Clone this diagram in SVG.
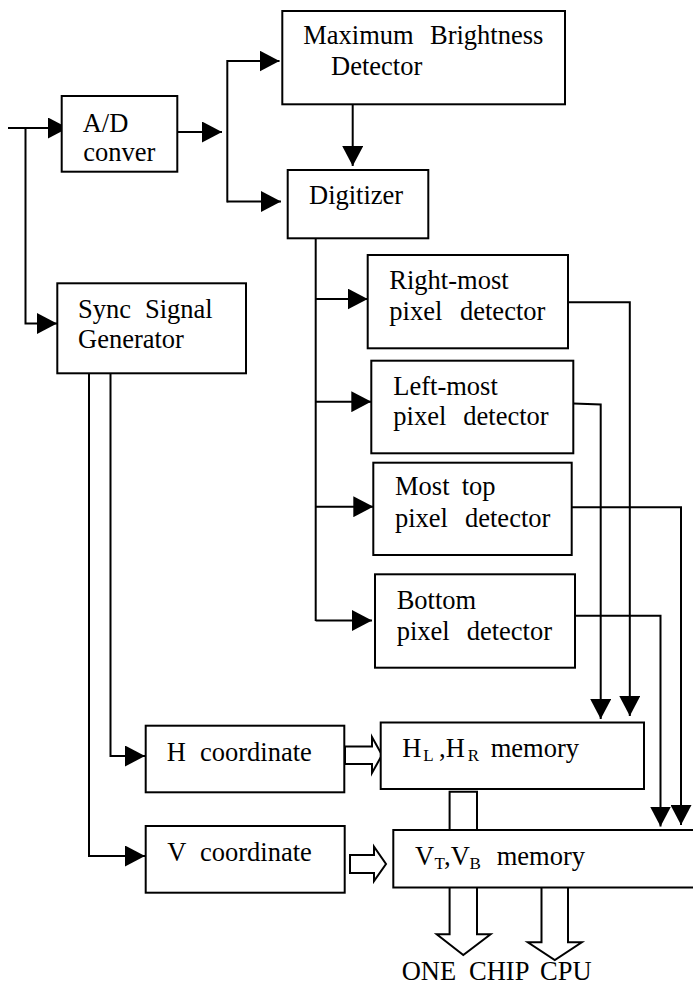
<svg xmlns="http://www.w3.org/2000/svg" width="693" height="987" viewBox="0 0 693 987">
<style>
.box{fill:#fff;stroke:#000;stroke-width:2}
.ln{fill:none;stroke:#000;stroke-width:2}
.ha{fill:#fff;stroke:#000;stroke-width:2;stroke-linejoin:miter}
.t{font-family:'Liberation Serif','DejaVu Serif',serif;font-size:26.5px;fill:#000}
.sub{font-size:17px}
</style>
<defs>
<marker id="arr" markerUnits="userSpaceOnUse" markerWidth="20" markerHeight="21" refX="20" refY="10.5" orient="auto" viewBox="0 0 20 21">
<path d="M0,0 L20,10.5 L0,21 z" fill="#000"/>
</marker>
</defs>
<rect width="693" height="987" fill="#fff"/>
<g id="connectors">
<polyline class="ln" points="8,128 68,128" marker-end="url(#arr)"/>
<polyline class="ln" points="25.5,128 25.5,323.5 57,323.5" marker-end="url(#arr)"/>
<polyline class="ln" points="177,132 222,132" marker-end="url(#arr)"/>
<polyline class="ln" points="227.3,60 227.3,202.5"/>
<polyline class="ln" points="227.3,61 279.5,61" marker-end="url(#arr)"/>
<polyline class="ln" points="227.3,201.5 281,201.5" marker-end="url(#arr)"/>
<polyline class="ln" points="352.7,104 352.7,166" marker-end="url(#arr)"/>
<polyline class="ln" points="315.7,238 315.7,621"/>
<polyline class="ln" points="315.7,299 367.7,299" marker-end="url(#arr)"/>
<polyline class="ln" points="315.7,401.7 371.3,401.7" marker-end="url(#arr)"/>
<polyline class="ln" points="315.7,506.7 373.3,506.7" marker-end="url(#arr)"/>
<polyline class="ln" points="315.7,620.5 372,620.5" marker-end="url(#arr)"/>
<polyline class="ln" points="568,302.3 629.8,302.3 629.8,716" marker-end="url(#arr)"/>
<polyline class="ln" points="573.3,403.5 600.7,404.5 600.7,719" marker-end="url(#arr)"/>
<polyline class="ln" points="571.7,507.3 681,507.3 681,825" marker-end="url(#arr)"/>
<polyline class="ln" points="575,615.7 660.5,615.7 660.5,826.5" marker-end="url(#arr)"/>
<polyline class="ln" points="89,373 89,856 145,856" marker-end="url(#arr)"/>
<polyline class="ln" points="110.5,373 110.5,756 145,756" marker-end="url(#arr)"/>
<polygon class="ha" points="345,746.5 372,746.5 372,737 382,755 372,773 372,764 345,764"/>
<polygon class="ha" points="350,855 374,855 374,846.7 386,864 374,881 374,873 350,873"/>
<polyline class="ha" points="449.6,830 449.6,791.7 477,791.7 477,830"/>
<polyline class="ha" points="449.6,887.5 449.6,934.3 436.7,934.3 463.3,955 490.6,934.3 477,934.3 477,887.5"/>
<polyline class="ha" points="541.5,887.5 541.5,942.3 527.8,942.3 554.8,960 581.8,942.3 568,942.3 568,887.5"/>
</g>
<g id="ad">
<rect class="box" x="61.7" y="96" width="115.6" height="75.7"/>
<text class="t" x="82.7" y="131.7">A/D</text>
<text class="t" x="83.3" y="161">conver</text>
</g>
<g id="maxbright">
<rect class="box" x="282.3" y="11" width="282.7" height="93.3"/>
<text class="t" y="44.3"><tspan x="303.3">Maximum</tspan><tspan x="430">Brightness</tspan></text>
<text class="t" x="331" y="75">Detector</text>
</g>
<g id="digitizer">
<rect class="box" x="287.7" y="170" width="140.6" height="68.3"/>
<text class="t" x="309" y="204">Digitizer</text>
</g>
<g id="sync">
<rect class="box" x="57.3" y="283.3" width="188.7" height="90"/>
<text class="t" y="318"><tspan x="78">Sync</tspan><tspan x="145">Signal</tspan></text>
<text class="t" x="78" y="348">Generator</text>
</g>
<g id="rightmost">
<rect class="box" x="367.7" y="255" width="200.3" height="93.3"/>
<text class="t" x="389.3" y="289.3">Right-most</text>
<text class="t" y="320"><tspan x="389.3">pixel</tspan><tspan x="460">detector</tspan></text>
</g>
<g id="leftmost">
<rect class="box" x="371.3" y="360.7" width="202" height="92.6"/>
<text class="t" x="393.3" y="395">Left-most</text>
<text class="t" y="425"><tspan x="393.3">pixel</tspan><tspan x="463.3">detector</tspan></text>
</g>
<g id="mosttop">
<rect class="box" x="373.3" y="462.7" width="198.4" height="92.3"/>
<text class="t" y="495"><tspan x="395">Most</tspan><tspan x="461.7">top</tspan></text>
<text class="t" y="526.7"><tspan x="395">pixel</tspan><tspan x="465">detector</tspan></text>
</g>
<g id="bottom">
<rect class="box" x="375" y="574.3" width="200" height="93.4"/>
<text class="t" x="396.7" y="609">Bottom</text>
<text class="t" y="640"><tspan x="396.7">pixel</tspan><tspan x="466.7">detector</tspan></text>
</g>
<g id="hcoord">
<rect class="box" x="145.7" y="725.7" width="198.6" height="66.6"/>
<text class="t" y="760.7"><tspan x="166.7">H</tspan><tspan x="200">coordinate</tspan></text>
</g>
<g id="vcoord">
<rect class="box" x="145.7" y="826" width="199" height="66.7"/>
<text class="t" y="861"><tspan x="167.3">V</tspan><tspan x="200">coordinate</tspan></text>
</g>
<g id="hmem">
<rect class="box" x="380.7" y="722.5" width="263.3" height="66.5"/>
<text class="t" y="756.7"><tspan x="402.3">H</tspan><tspan class="sub" x="423.3" y="761">L</tspan><tspan x="439" y="756.7">,H</tspan><tspan class="sub" x="467.7" y="761">R</tspan><tspan x="490.7" y="756.7">memory</tspan></text>
</g>
<g id="vmem">
<rect class="box" x="393.3" y="830" width="302" height="57.5"/>
<text class="t" y="865"><tspan x="415">V</tspan><tspan class="sub" x="434.5" y="869">T</tspan><tspan x="444" y="865">,V</tspan><tspan class="sub" x="469.5" y="869">B</tspan><tspan x="496.7" y="865">memory</tspan></text>
</g>
<g id="cpu">
<text class="t" y="980"><tspan x="401.7">ONE</tspan><tspan x="469">CHIP</tspan><tspan x="540">CPU</tspan></text>
</g>
</svg>
